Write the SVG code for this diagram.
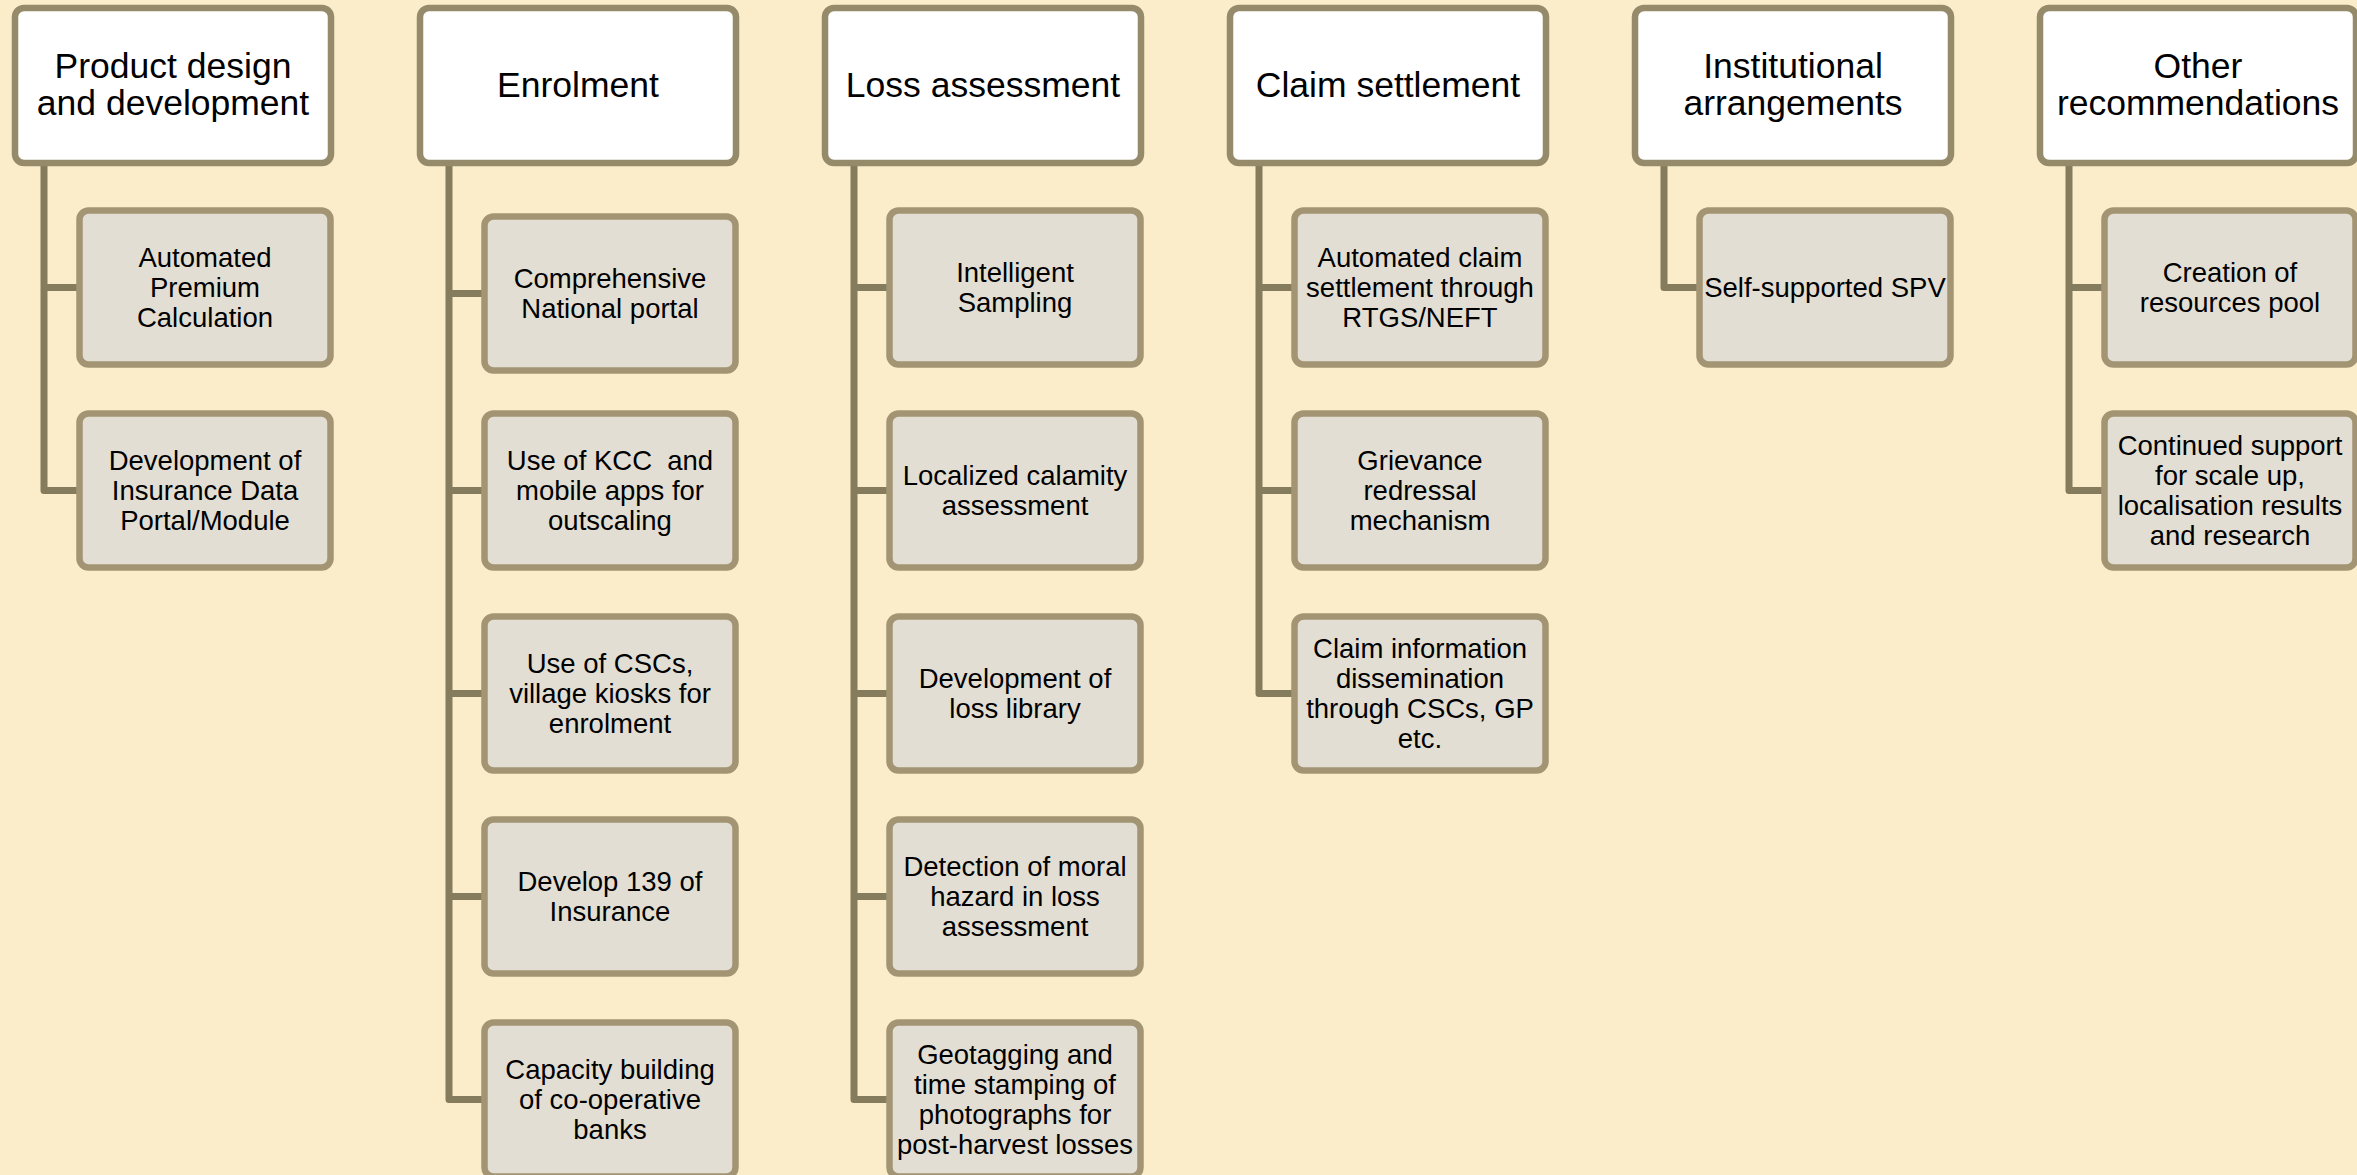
<svg xmlns="http://www.w3.org/2000/svg" width="2357" height="1175" viewBox="0 0 2357 1175">
<style>
.bg{fill:#FBEDC9}
.hd{fill:#FFFFFF;stroke:#958A6A;stroke-width:6.5}
.ch{fill:#E2DED3;stroke:#A39573;stroke-width:6.5}
.cn{fill:none;stroke:#857B5D;stroke-width:7;stroke-linejoin:round;stroke-linecap:butt}
.ht{font-family:"Liberation Sans",Arial,sans-serif;font-size:35.5px;fill:#000;text-anchor:middle}
.ct{font-family:"Liberation Sans",Arial,sans-serif;font-size:27.5px;fill:#000;text-anchor:middle}
</style>
<rect class="bg" x="0" y="0" width="2357" height="1175"/>
<g id="connectors">
<path class="cn" d="M44,163 V490.5 H79.5 M44,287.5 H79.5"/>
<path class="cn" d="M449,163 V1099.5 H484.5 M449,293.5 H484.5 M449,490.5 H484.5 M449,693.5 H484.5 M449,896.5 H484.5"/>
<path class="cn" d="M854,163 V1099.5 H889.5 M854,287.5 H889.5 M854,490.5 H889.5 M854,693.5 H889.5 M854,896.5 H889.5"/>
<path class="cn" d="M1259,163 V693.5 H1294.5 M1259,287.5 H1294.5 M1259,490.5 H1294.5"/>
<path class="cn" d="M1664,163 V287.5 H1699.5"/>
<path class="cn" d="M2069,163 V490.5 H2104.5 M2069,287.5 H2104.5"/>
</g>
<g id="h1"><rect class="hd" x="15" y="8" width="316" height="155" rx="9"/><text class="ht" x="173" y="78">Product design</text><text class="ht" x="173" y="115">and development</text></g>
<g id="h2"><rect class="hd" x="420" y="8" width="316" height="155" rx="9"/><text class="ht" x="578" y="97">Enrolment</text></g>
<g id="h3"><rect class="hd" x="825" y="8" width="316" height="155" rx="9"/><text class="ht" x="983" y="97">Loss assessment</text></g>
<g id="h4"><rect class="hd" x="1230" y="8" width="316" height="155" rx="9"/><text class="ht" x="1388" y="97">Claim settlement</text></g>
<g id="h5"><rect class="hd" x="1635" y="8" width="316" height="155" rx="9"/><text class="ht" x="1793" y="78">Institutional</text><text class="ht" x="1793" y="115">arrangements</text></g>
<g id="h6"><rect class="hd" x="2040" y="8" width="316" height="155" rx="9"/><text class="ht" x="2198" y="78">Other</text><text class="ht" x="2198" y="115">recommendations</text></g>

<g id="c1a"><rect class="ch" x="79.5" y="210.5" width="251" height="154" rx="9"/><text class="ct" x="205" y="266.5">Automated</text><text class="ct" x="205" y="296.5">Premium</text><text class="ct" x="205" y="326.5">Calculation</text></g>
<g id="c1b"><rect class="ch" x="79.5" y="413.5" width="251" height="154" rx="9"/><text class="ct" x="205" y="469.5">Development of</text><text class="ct" x="205" y="499.5">Insurance Data</text><text class="ct" x="205" y="529.5">Portal/Module</text></g>

<g id="c2a"><rect class="ch" x="484.5" y="216.5" width="251" height="154" rx="9"/><text class="ct" x="610" y="287.5">Comprehensive</text><text class="ct" x="610" y="317.5">National portal</text></g>
<g id="c2b"><rect class="ch" x="484.5" y="413.5" width="251" height="154" rx="9"/><text class="ct" x="610" y="469.5">Use of KCC&#160; and</text><text class="ct" x="610" y="499.5">mobile apps for</text><text class="ct" x="610" y="529.5">outscaling</text></g>
<g id="c2c"><rect class="ch" x="484.5" y="616.5" width="251" height="154" rx="9"/><text class="ct" x="610" y="672.5">Use of CSCs,</text><text class="ct" x="610" y="702.5">village kiosks for</text><text class="ct" x="610" y="732.5">enrolment</text></g>
<g id="c2d"><rect class="ch" x="484.5" y="819.5" width="251" height="154" rx="9"/><text class="ct" x="610" y="890.5">Develop 139 of</text><text class="ct" x="610" y="920.5">Insurance</text></g>
<g id="c2e"><rect class="ch" x="484.5" y="1022.5" width="251" height="154" rx="9"/><text class="ct" x="610" y="1078.5">Capacity building</text><text class="ct" x="610" y="1108.5">of co-operative</text><text class="ct" x="610" y="1138.5">banks</text></g>

<g id="c3a"><rect class="ch" x="889.5" y="210.5" width="251" height="154" rx="9"/><text class="ct" x="1015" y="281.5">Intelligent</text><text class="ct" x="1015" y="311.5">Sampling</text></g>
<g id="c3b"><rect class="ch" x="889.5" y="413.5" width="251" height="154" rx="9"/><text class="ct" x="1015" y="484.5">Localized calamity</text><text class="ct" x="1015" y="514.5">assessment</text></g>
<g id="c3c"><rect class="ch" x="889.5" y="616.5" width="251" height="154" rx="9"/><text class="ct" x="1015" y="687.5">Development of</text><text class="ct" x="1015" y="717.5">loss library</text></g>
<g id="c3d"><rect class="ch" x="889.5" y="819.5" width="251" height="154" rx="9"/><text class="ct" x="1015" y="875.5">Detection of moral</text><text class="ct" x="1015" y="905.5">hazard in loss</text><text class="ct" x="1015" y="935.5">assessment</text></g>
<g id="c3e"><rect class="ch" x="889.5" y="1022.5" width="251" height="154" rx="9"/><text class="ct" x="1015" y="1063.5">Geotagging and</text><text class="ct" x="1015" y="1093.5">time stamping of</text><text class="ct" x="1015" y="1123.5">photographs for</text><text class="ct" x="1015" y="1153.5" textLength="236" lengthAdjust="spacingAndGlyphs">post-harvest losses</text></g>

<g id="c4a"><rect class="ch" x="1294.5" y="210.5" width="251" height="154" rx="9"/><text class="ct" x="1420" y="266.5">Automated claim</text><text class="ct" x="1420" y="296.5">settlement through</text><text class="ct" x="1420" y="326.5">RTGS/NEFT</text></g>
<g id="c4b"><rect class="ch" x="1294.5" y="413.5" width="251" height="154" rx="9"/><text class="ct" x="1420" y="469.5">Grievance</text><text class="ct" x="1420" y="499.5">redressal</text><text class="ct" x="1420" y="529.5">mechanism</text></g>
<g id="c4c"><rect class="ch" x="1294.5" y="616.5" width="251" height="154" rx="9"/><text class="ct" x="1420" y="657.5">Claim information</text><text class="ct" x="1420" y="687.5">dissemination</text><text class="ct" x="1420" y="717.5">through CSCs, GP</text><text class="ct" x="1420" y="747.5">etc.</text></g>

<g id="c5a"><rect class="ch" x="1699.5" y="210.5" width="251" height="154" rx="9"/><text class="ct" x="1825" y="296.5">Self-supported SPV</text></g>

<g id="c6a"><rect class="ch" x="2104.5" y="210.5" width="251" height="154" rx="9"/><text class="ct" x="2230" y="281.5">Creation of</text><text class="ct" x="2230" y="311.5">resources pool</text></g>
<g id="c6b"><rect class="ch" x="2104.5" y="413.5" width="251" height="154" rx="9"/><text class="ct" x="2230" y="454.5">Continued support</text><text class="ct" x="2230" y="484.5">for scale up,</text><text class="ct" x="2230" y="514.5">localisation results</text><text class="ct" x="2230" y="544.5">and research</text></g>
</svg>
